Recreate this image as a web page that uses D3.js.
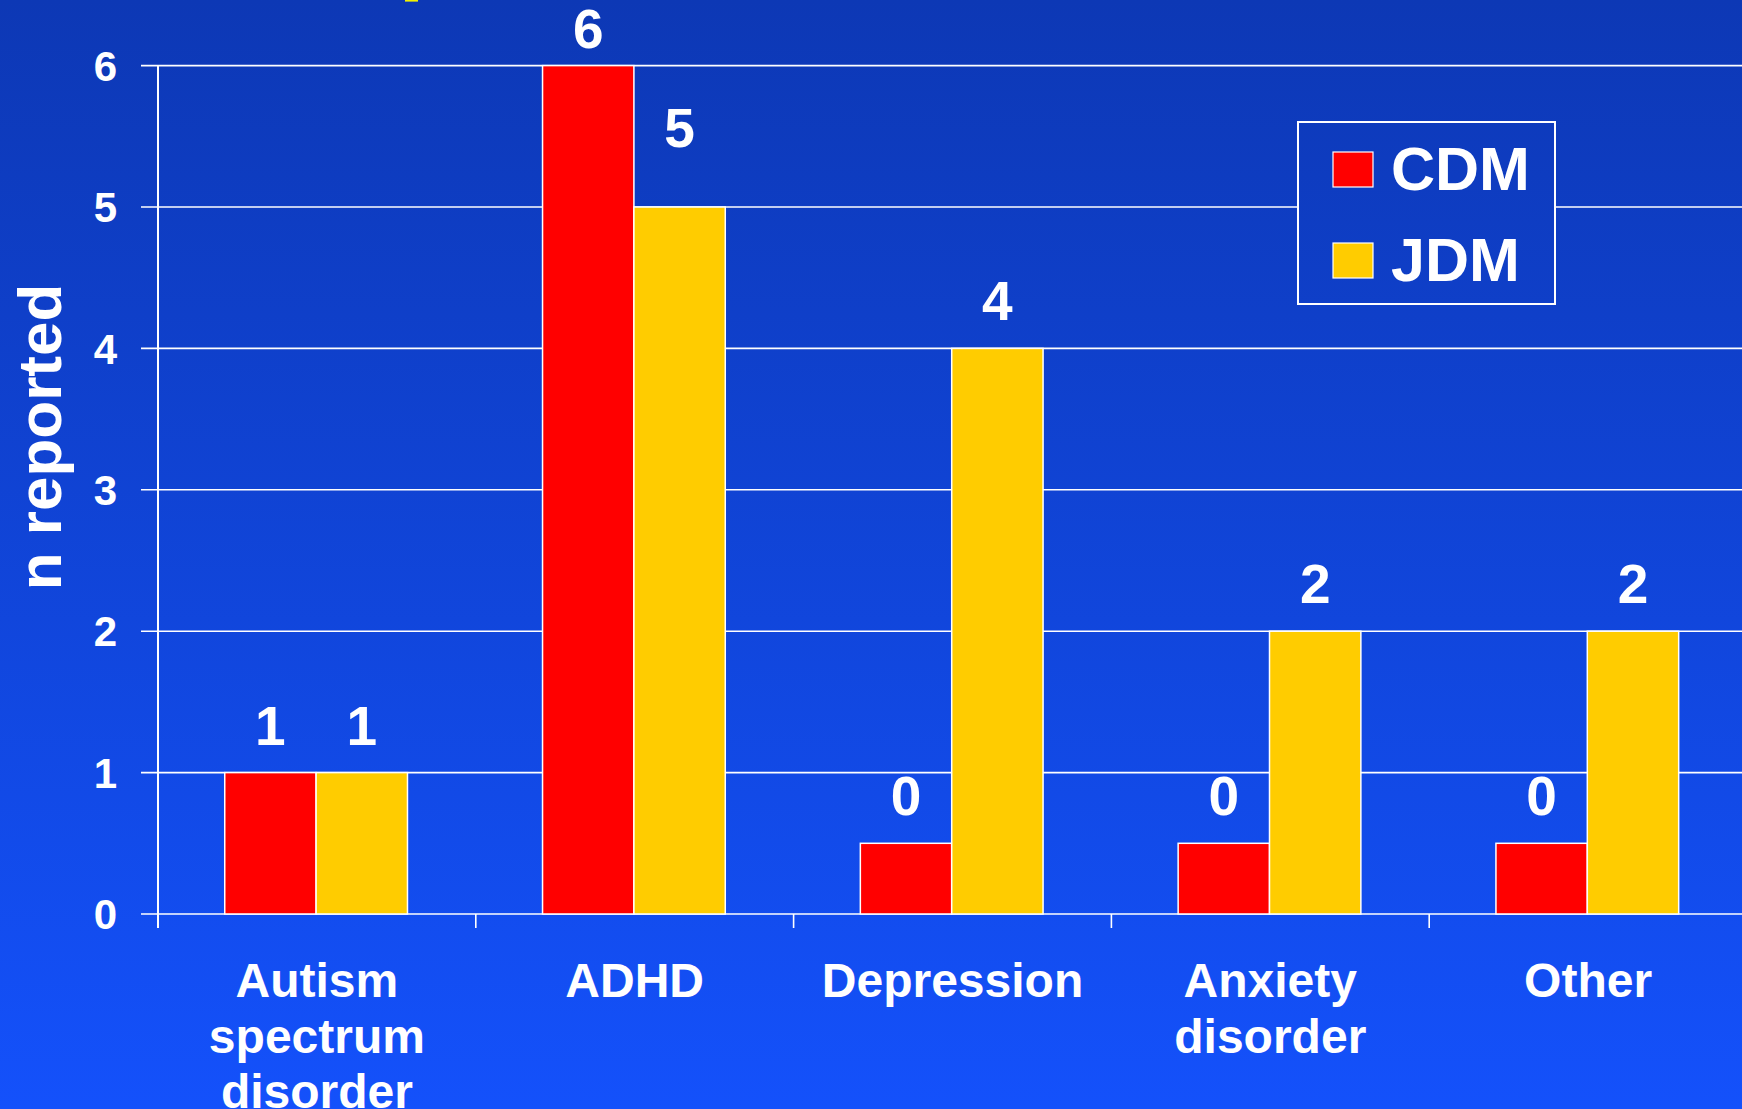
<!DOCTYPE html>
<html>
<head>
<meta charset="utf-8">
<script src="https://cdn.jsdelivr.net/npm/d3@7"></script>
<style>
  html, body { margin: 0; padding: 0; overflow: hidden; background: #1147e0; }
  svg { display: block; }
  text { font-family: "Liberation Sans", Arial, sans-serif; font-weight: bold; fill: #ffffff; }
</style>
</head>
<body>
<svg id="chart" width="1742" height="1109"></svg>
<script>
// Reported psychiatric / neurodevelopmental diagnoses, CDM vs JDM
const categories = [
  ["Autism", "spectrum", "disorder"],
  ["ADHD"],
  ["Depression"],
  ["Anxiety", "disorder"],
  ["Other"]
];
const series = ["CDM", "JDM"];
const cdmValues = [1, 6, 0, 0, 0];
const jdmValues = [1, 5, 4, 2, 2];
const yTicks = [0, 1, 2, 3, 4, 5, 6];

// Zero counts are still shown as a short stub so the category is visible
const ZERO_STUB = 0.5;

const W = 1742, H = 1109;
const colors = { CDM: "#ff0000", JDM: "#ffcc00" };

const svg = d3.select("#chart");
const defs = svg.append("defs");
const grad = defs.append("linearGradient")
  .attr("id", "bg").attr("gradientUnits", "userSpaceOnUse")
  .attr("x1", 0).attr("y1", 0).attr("x2", 0).attr("y2", H);
grad.append("stop").attr("offset", "0%").attr("stop-color", "#0d38b5");
grad.append("stop").attr("offset", "100%").attr("stop-color", "#1451fb");

svg.append("rect").attr("width", W).attr("height", H).attr("fill", "url(#bg)");

// fragment of the slide title sitting just above the frame
svg.append("rect").attr("x", 405).attr("y", 0).attr("width", 13).attr("height", 1.6).attr("fill", "#f2f200");

const left = 158, bandW = 317.8;
const catKeys = categories.map(c => c.join(" "));
const x0 = d3.scaleBand().domain(catKeys).range([left, left + bandW * catKeys.length]).padding(0);
const x1 = d3.scaleBand().domain(series).range([bandW * 0.21, bandW * 0.785]).padding(0);
const y = d3.scaleLinear().domain([0, 6]).range([914, 65.6]);

// horizontal gridlines with left tick marks
const grid = svg.append("g");
grid.selectAll("line").data(yTicks).join("line")
  .attr("x1", left - 17).attr("x2", W)
  .attr("y1", d => y(d)).attr("y2", d => y(d))
  .attr("stroke", "#ffffff").attr("stroke-width", 1.6);

// y-axis line
svg.append("line").attr("x1", left).attr("x2", left)
  .attr("y1", y(6)).attr("y2", y(0) + 14)
  .attr("stroke", "#ffffff").attr("stroke-width", 2);

// category tick marks below the baseline
svg.append("g").selectAll("line").data(catKeys).join("line")
  .attr("x1", d => x0(d)).attr("x2", d => x0(d))
  .attr("y1", y(0)).attr("y2", y(0) + 14)
  .attr("stroke", "#ffffff").attr("stroke-width", 1.6);

// y tick labels
svg.append("g").selectAll("text").data(yTicks).join("text")
  .attr("x", 117).attr("y", d => y(d)).attr("dy", "0.36em")
  .attr("text-anchor", "end").attr("font-size", 42)
  .text(d => d);

// y-axis title
svg.append("text")
  .attr("transform", "translate(61,437) rotate(-90)")
  .attr("text-anchor", "middle").attr("font-size", 62)
  .text("n reported");

// bars
const rows = catKeys.map((k, i) => ({ key: k, CDM: cdmValues[i], JDM: jdmValues[i] }));
const barData = rows.flatMap(r => series.map(s => ({ key: r.key, s, v: r[s] })));

svg.append("g").selectAll("rect").data(barData).join("rect")
  .attr("x", d => x0(d.key) + x1(d.s))
  .attr("width", x1.bandwidth())
  .attr("y", d => y(Math.max(d.v, ZERO_STUB)))
  .attr("height", d => y(0) - y(Math.max(d.v, ZERO_STUB)))
  .attr("fill", d => colors[d.s])
  .attr("stroke", "#ffffff").attr("stroke-width", 1.5);

// value labels above bars
const labelLift = { "ADHD|JDM": 32 };
svg.append("g").selectAll("text").data(barData).join("text")
  .attr("x", d => x0(d.key) + x1(d.s) + x1.bandwidth() / 2)
  .attr("y", d => {
    const base = y(Math.max(d.v, ZERO_STUB)) - 28 - (labelLift[d.key + "|" + d.s] || 0);
    return Math.max(base, 48);
  })
  .attr("text-anchor", "middle").attr("font-size", 55)
  .text(d => d.v);

// category labels
const catG = svg.append("g").selectAll("text").data(categories).join("text")
  .attr("x", (d, i) => x0(catKeys[i]) + bandW / 2)
  .attr("y", 997)
  .attr("text-anchor", "middle").attr("font-size", 48);
catG.selectAll("tspan").data(d => d).join("tspan")
  .attr("x", function () { return this.parentNode.getAttribute("x"); })
  .attr("dy", (d, i) => i === 0 ? 0 : 55.5)
  .text(d => d);

// legend
const lg = svg.append("g");
lg.append("rect").attr("x", 1298).attr("y", 122).attr("width", 257).attr("height", 182)
  .attr("fill", "url(#bg)").attr("stroke", "#ffffff").attr("stroke-width", 2);
series.forEach((s, i) => {
  const top = 152 + i * 91;
  lg.append("rect").attr("x", 1333).attr("y", top).attr("width", 40).attr("height", 35)
    .attr("fill", colors[s]).attr("stroke", "#ffffff").attr("stroke-width", 1.2);
  lg.append("text").attr("x", 1391).attr("y", top + 38)
    .attr("font-size", 61).text(s);
});
</script>
</body>
</html>
